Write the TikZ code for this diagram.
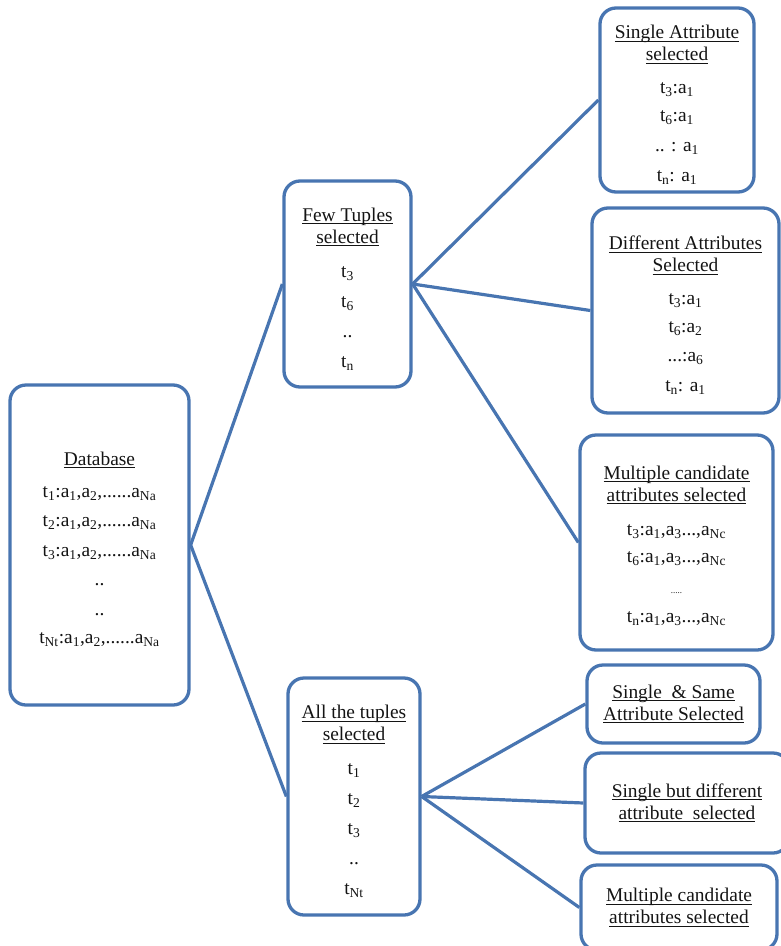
\documentclass[tikz,border=0pt]{standalone}
\usepackage{fontspec}
\setmainfont{Liberation Serif}
\definecolor{bord}{RGB}{72,117,177}
\definecolor{txt}{RGB}{20,20,20}
\newcommand\myul[1]{\setbox0\hbox{#1}\rlap{\rule[-3pt]{\wd0}{1.1pt}}\box0}
\newcommand\sub[1]{\textsubscript{#1}}
\begin{document}
\begin{tikzpicture}[x=1pt,y=-1pt,
  box/.style={draw=bord, line width=3.3pt, rounded corners=16pt, fill=white, inner sep=0pt},
  lbl/.style={align=center, inner sep=0pt, text=txt, font=\fontsize{19.4}{22}\selectfont},
  link/.style={draw=bord, line width=3.2pt}]
\useasboundingbox (0,0) rectangle (781,946);
\clip (0,0) rectangle (781,946);

\node[box, minimum width=179pt, minimum height=320pt] (db) at (99.5,545) {};
\node[lbl] (dbt) at ([yshift=-4pt]db.center)
 {\myul{Database}\\[10pt]
  t\sub{1}:a\sub{1},a\sub{2},......a\sub{Na}\\[7.5pt]
  t\sub{2}:a\sub{1},a\sub{2},......a\sub{Na}\\[7.5pt]
  t\sub{3}:a\sub{1},a\sub{2},......a\sub{Na}\\[7.5pt]
  ..\\[7.5pt]
  ..\\[6pt]
  t\sub{Nt}:a\sub{1},a\sub{2},......a\sub{Na}};

\node[box, minimum width=127pt, minimum height=206pt] (few) at (347.5,284) {};
\node[lbl] (fewt) at ([yshift=-5pt]few.center)
 {\myul{Few Tuples}\\\myul{selected}\\[12pt]
  t\sub{3}\\[8pt] t\sub{6}\\[8pt] ..\\[8pt] t\sub{n}};

\node[box, minimum width=132pt, minimum height=237pt] (all) at (354,796.5) {};
\node[lbl] (allt) at ([yshift=-5pt]all.center)
 {\myul{All the tuples}\\\myul{selected}\\[12pt]
  t\sub{1}\\[8pt] t\sub{2}\\[8pt] t\sub{3}\\[8pt] ..\\[8pt] t\sub{Nt}};

\node[box, minimum width=154pt, minimum height=184pt] (sa) at (677,100) {};
\node[lbl] (sat) at ([yshift=-5pt]sa.center)
 {\myul{Single Attribute}\\\myul{selected}\\[11pt]
  t\sub{3}:a\sub{1}\\[6pt] t\sub{6}:a\sub{1}\\[8pt] .. : a\sub{1}\\[8pt] t\sub{n}: a\sub{1}};

\node[box, minimum width=187pt, minimum height=205pt] (diff) at (685.5,310.5) {};
\node[lbl] (difft) at ([yshift=-5pt]diff.center)
 {\myul{Different Attributes}\\\myul{Selected}\\[11pt]
  t\sub{3}:a\sub{1}\\[6pt] t\sub{6}:a\sub{2}\\[7pt] ...:a\sub{6}\\[8pt] t\sub{n}: a\sub{1}};

\node[box, minimum width=193pt, minimum height=215pt] (mca) at (676.5,542.5) {};
\node[lbl] (mcat) at ([yshift=-3pt]mca.center)
 {\myul{Multiple candidate}\\\myul{attributes selected}\\[12pt]
  t\sub{3}:a\sub{1},a\sub{3}...,a\sub{Nc}\\[5pt]
  t\sub{6}:a\sub{1},a\sub{3}...,a\sub{Nc}\\[9pt]
  {\fontsize{9}{9}\selectfont .....}\\[7pt]
  t\sub{n}:a\sub{1},a\sub{3}...,a\sub{Nc}};

\node[box, minimum width=173pt, minimum height=78pt] (ss) at (673.5,704) {};
\node[lbl] (sst) at (ss.center)
 {\myul{Single\ \ \& Same}\\\myul{Attribute Selected}};

\node[box, minimum width=204pt, minimum height=100pt] (sbd) at (687,803) {};
\node[lbl] (sbdt) at (sbd.center)
 {\myul{Single but different}\\\myul{attribute\ \ selected}};

\node[box, minimum width=196pt, minimum height=85pt] (mcb) at (679,907.5) {};
\node[lbl] (mcbt) at (mcb.center)
 {\myul{Multiple candidate}\\\myul{attributes selected}};

\draw[link] (db.east) -- (few.west);
\draw[link] (db.east) -- (all.west);
\draw[link] (few.east) -- (sa.west);
\draw[link] (few.east) -- (diff.west);
\draw[link] (few.east) -- (mca.west);
\draw[link] (all.east) -- (ss.west);
\draw[link] (all.east) -- (sbd.west);
\draw[link] (all.east) -- (mcb.west);
\end{tikzpicture}
\end{document}
